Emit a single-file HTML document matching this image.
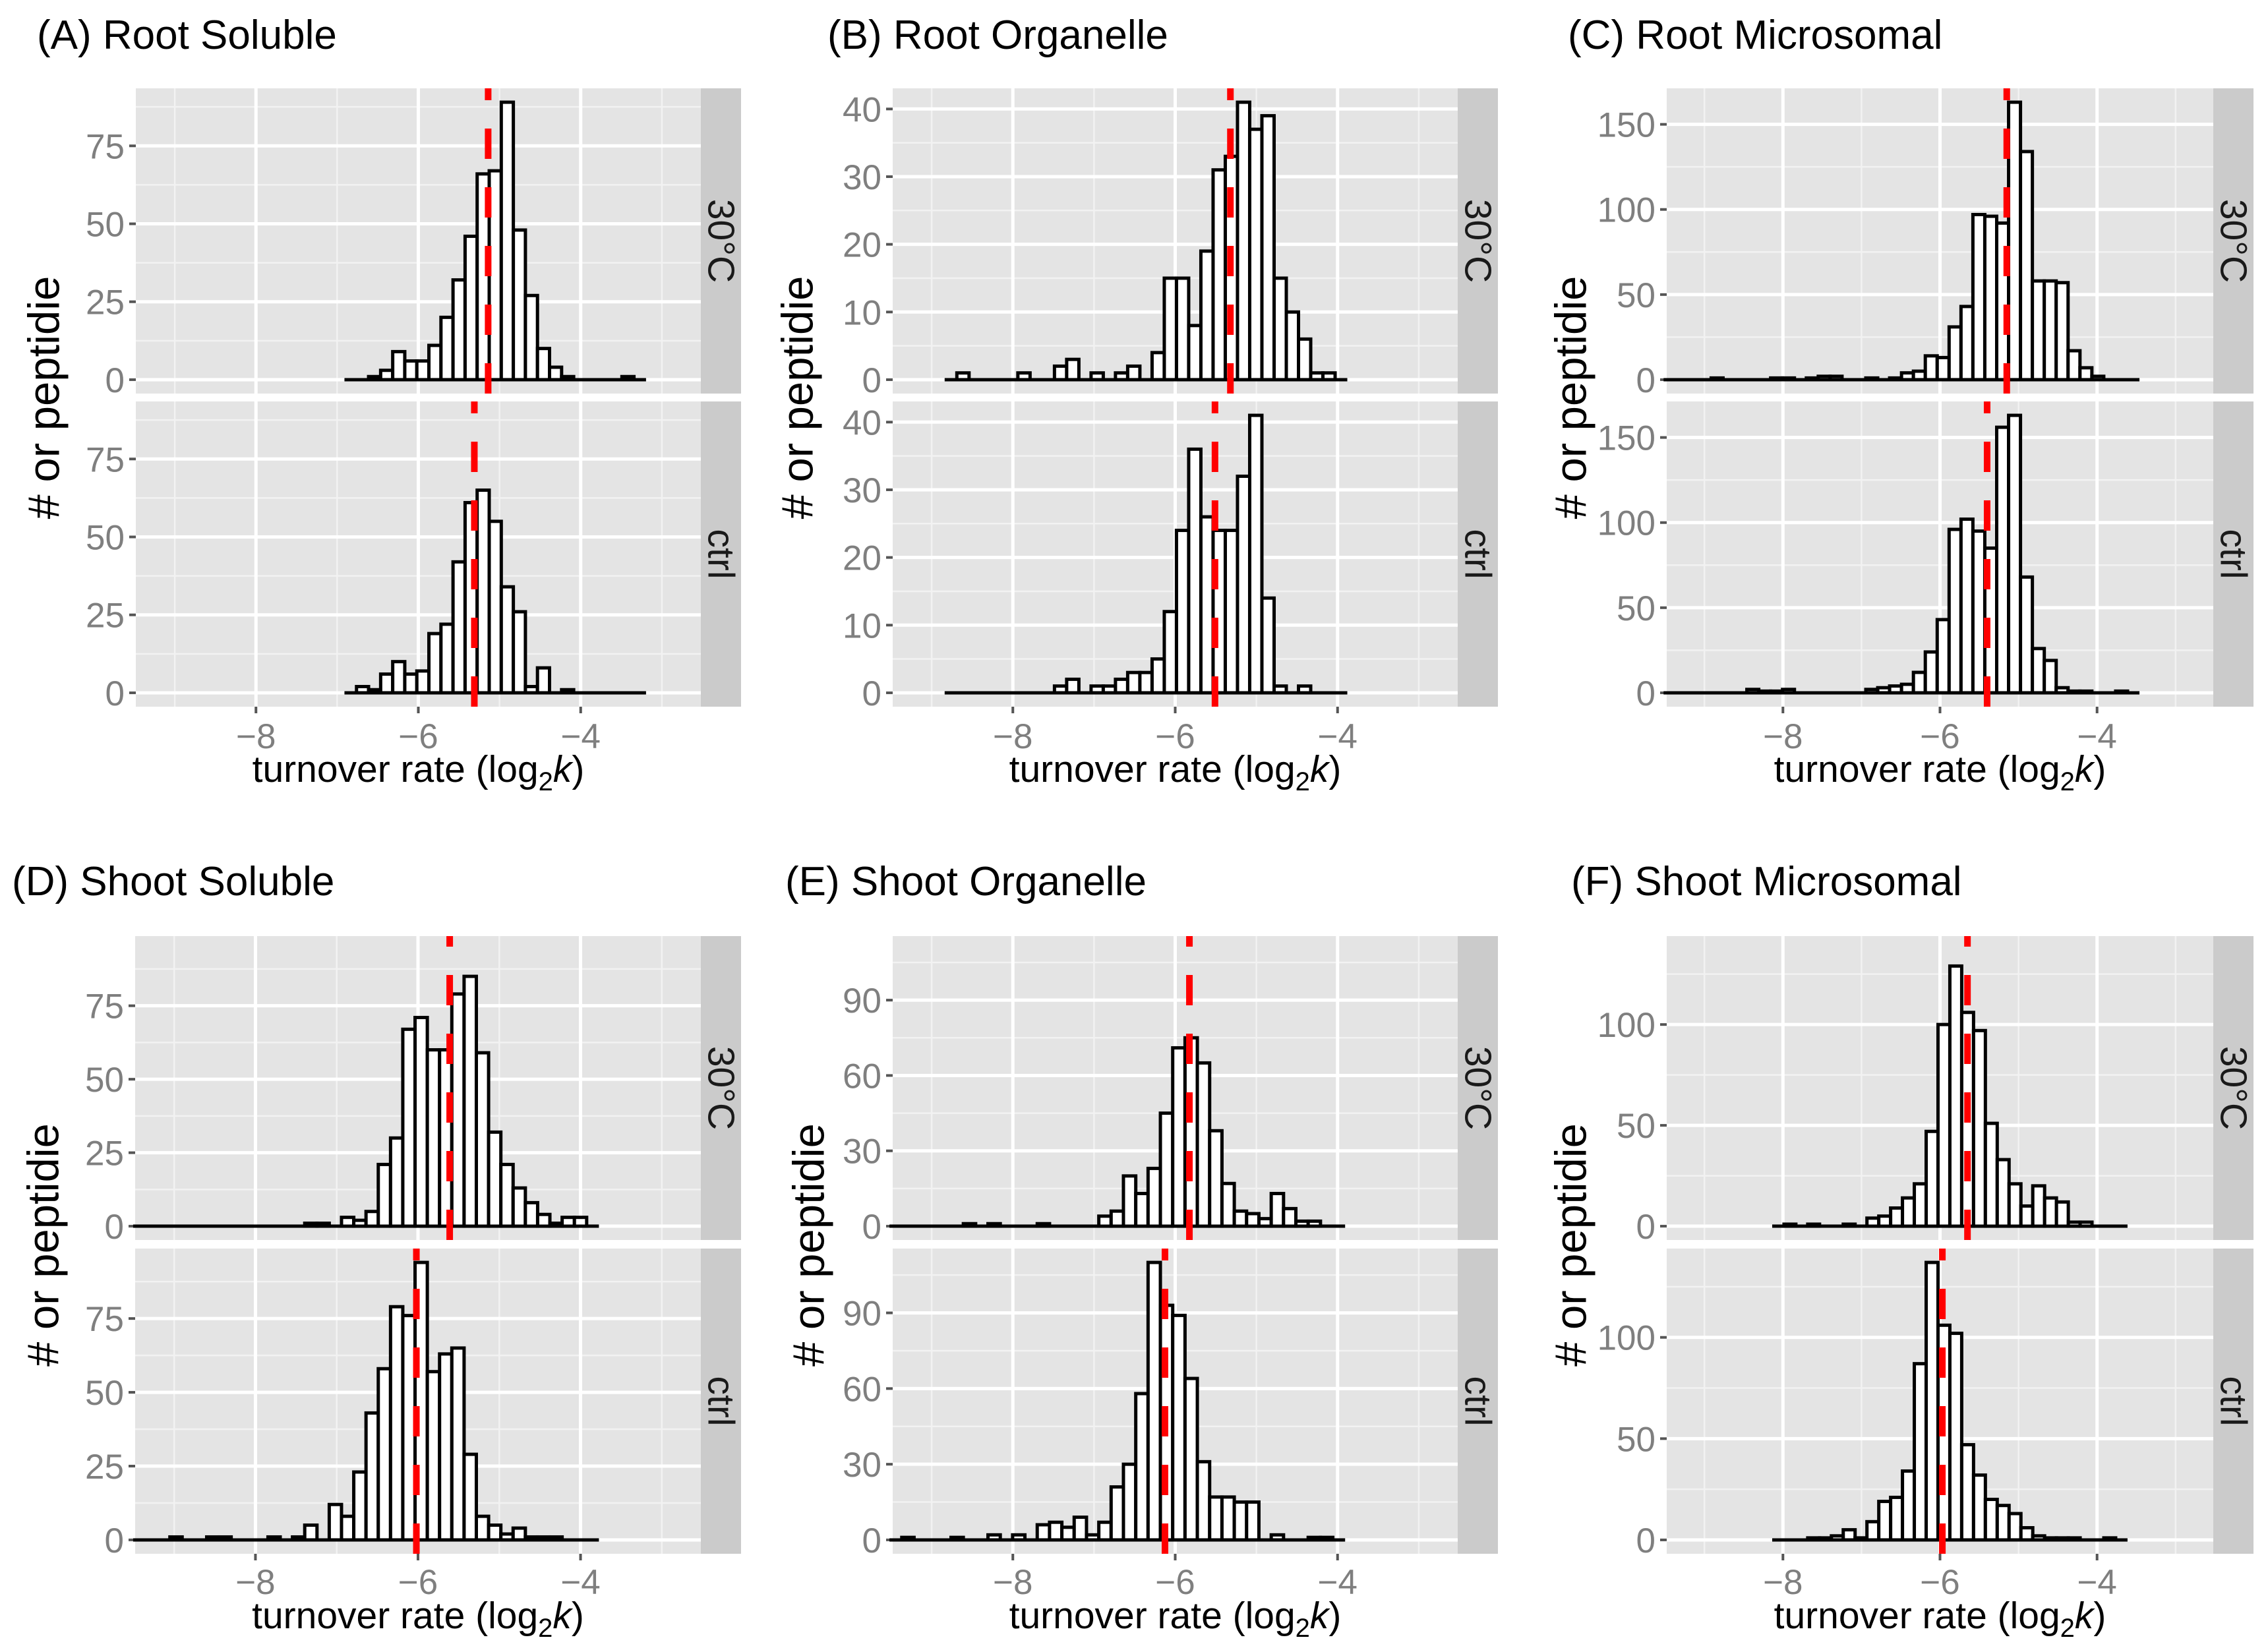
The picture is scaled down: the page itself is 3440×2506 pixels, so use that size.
<!DOCTYPE html>
<html><head><meta charset="utf-8">
<style>
html,body{margin:0;padding:0;background:#fff;}
svg{display:block;font-family:"Liberation Sans",Arial,sans-serif;}
</style></head>
<body>
<svg id="fig" width="3440" height="2506" viewBox="0 0 3440 2506" xmlns="http://www.w3.org/2000/svg"></svg>
<script>
// ---- data ----
const panelTitles = ["(A) Root Soluble","(B) Root Organelle","(C) Root Microsomal","(D) Shoot Soluble","(E) Shoot Organelle","(F) Shoot Microsomal"];
const facetLabels = ["30°C","ctrl"];
const xTicks = [-8,-6,-4];
const xTickLabels = ["\u22128","\u22126","\u22124"];
const binStart = [-6.91,-8.84,-9.52,-9.505,-9.52,-8.137];
const binEnd = [-3.195,-3.88,-3.46,-3.774,-3.907,-3.612];
const median30 = [-5.14,-5.32,-5.15,-5.61,-5.825,-5.65];
const medianCtrl = [-5.31,-5.51,-5.40,-6.02,-6.126,-5.97];
const yTicksA = [0,25,50,75];
const yTicksB = [0,10,20,30,40];
const yTicksC = [0,50,100,150];
const yTicksD = [0,25,50,75];
const yTicksE = [0,30,60,90];
const yTicksF = [0,50,100];
const countsA30 = [0,0,1,3,9,6,6,11,20,32,46,66,67,89,48,27,10,4,1,0,0,0,0,1,0];
const countsActrl = [0,2,1,6,10,6,7,19,22,42,61,65,55,34,26,2,8,0,1,0,0,0,0,0,0];
const countsB30 = [0,1,0,0,0,0,1,0,0,2,3,0,1,0,1,2,0,4,15,15,8,19,31,33,41,37,39,15,10,6,1,1,0];
const countsBctrl = [0,0,0,0,0,0,0,0,0,1,2,0,1,1,2,3,3,5,12,24,36,26,24,24,32,41,14,1,0,1,0,0,0];
const countsC30 = [0,0,0,0,1,0,0,0,0,1,1,0,1,2,2,0,0,1,0,1,4,5,14,13,31,43,97,96,92,163,134,58,58,57,17,7,2,0,0,0];
const countsCctrl = [0,0,0,0,0,0,0,2,1,1,2,0,0,0,0,0,0,2,3,4,5,12,24,43,96,102,95,85,156,163,68,26,19,3,1,1,0,0,1,0];
const countsD30 = [0,0,0,0,0,0,0,0,0,0,0,0,0,0,1,1,0,3,2,5,21,30,67,71,60,60,79,85,59,32,21,13,8,4,1,3,3,0];
const countsDctrl = [0,0,0,1,0,0,1,1,0,0,0,1,0,1,5,0,12,8,23,43,58,79,76,94,57,63,65,29,8,5,2,4,1,1,1,0,0,0];
const countsE30 = [0,0,0,0,0,0,1,0,1,0,0,0,1,0,0,0,0,4,6,20,13,23,45,71,75,65,38,17,6,5,3,13,7,2,2,0,0];
const countsEctrl = [0,1,0,0,0,1,0,0,2,0,2,0,6,7,5,9,2,7,21,30,58,110,93,89,64,31,17,17,15,15,0,2,0,0,1,1,0];
const countsF30 = [0,1,0,1,0,0,1,0,4,5,9,14,21,47,100,129,106,97,51,33,21,10,20,14,12,2,2,0,0,0];
const countsFctrl = [0,0,0,1,1,2,5,1,9,19,21,34,87,137,106,102,47,32,20,17,13,6,2,1,1,1,0,0,1,0];

// ---- layout (not data) ----
const yTicksAll = [yTicksA,yTicksB,yTicksC,yTicksD,yTicksE,yTicksF];
const counts30 = [countsA30,countsB30,countsC30,countsD30,countsE30,countsF30];
const countsCtrl = [countsActrl,countsBctrl,countsCctrl,countsDctrl,countsEctrl,countsFctrl];
const L = {
  left:[206,1354,2528,205,1354,2528],
  right:[1063,2211,3357,1063,2211,3357],
  titleX:[56,1255,2378,18,1191,2383],
  ytitleX:[67,1210,2383,66,1227,2383],
  rows:[{f:[[134,597],[609,1072]],title:74,xlab:1135,xtitle:1186},
        {f:[[1420,1881],[1894,2357]],title:1358,xlab:2418,xtitle:2470}]
};
const XMIN=-9.48, XMAX=-2.52, STRIP=61;
const NS="http://www.w3.org/2000/svg";
const svg=document.getElementById('fig');
function mk(tag,attrs,parent){const e=document.createElementNS(NS,tag);for(const k in attrs)e.setAttribute(k,attrs[k]);(parent||svg).appendChild(e);return e;}

for(let p=0;p<6;p++){
  const row=L.rows[Math.floor(p/3)];
  const x0=L.left[p], x1=L.right[p];
  const sx=v=>x0+(v-XMIN)/(XMAX-XMIN)*(x1-x0);
  const maxC=Math.max(...counts30[p],...countsCtrl[p]);
  const ylo=-0.05*maxC, yhi=1.05*maxC;
  const g=mk('g',{});
  
  
  const t=mk('text',{x:L.titleX[p],y:row.title,'font-size':62,fill:'#000'},g);
  t.textContent=panelTitles[p];
  
  
  const ym=(row.f[0][0]+row.f[1][1])/2;
  const yt=mk('text',{x:L.ytitleX[p],y:ym,'font-size':67,fill:'#000','text-anchor':'middle','dominant-baseline':'central',transform:`rotate(-90 ${L.ytitleX[p]} ${ym})`},g);
  yt.textContent='# or peptidie';
  
  
  const xt=mk('text',{x:(x0+x1)/2,y:row.xtitle,'font-size':57,fill:'#000','text-anchor':'middle'},g);
  xt.innerHTML='turnover rate (log<tspan font-size="40" dy="13">2</tspan><tspan dy="-13" font-style="italic">k</tspan>)';
  
  
  xTicks.forEach((v,i)=>{
    const tl=mk('text',{x:sx(v),y:row.xlab,'font-size':53,fill:'#7f7f7f','text-anchor':'middle'},g);
    tl.textContent=xTickLabels[i];
    
    
    mk('line',{x1:sx(v),x2:sx(v),y1:row.f[1][1],y2:row.f[1][1]+10,stroke:'#555','stroke-width':4},g);
  });
  for(let f=0;f<2;f++){
    const [fy0,fy1]=row.f[f];
    const sy=v=>fy1-(v-ylo)/(yhi-ylo)*(fy1-fy0);
    const fg=mk('g',{},g);
    
    
    mk('rect',{x:x0,y:fy0,width:x1-x0,height:fy1-fy0,fill:'#e4e4e4'},fg);
    const yt=yTicksAll[p], step=yt[1]-yt[0];
    for(let v=yt[0]-step/2; v<=yhi; v+=step){ if(v<ylo) continue;
      mk('line',{x1:x0,x2:x1,y1:sy(v),y2:sy(v),stroke:'#f2f2f2','stroke-width':2.5},fg);}
    [-9,-7,-5,-3].forEach(v=>mk('line',{x1:sx(v),x2:sx(v),y1:fy0,y2:fy1,stroke:'#f2f2f2','stroke-width':2.5},fg));
    yt.forEach(v=>mk('line',{x1:x0,x2:x1,y1:sy(v),y2:sy(v),stroke:'#fff','stroke-width':5},fg));
    xTicks.forEach(v=>mk('line',{x1:sx(v),x2:sx(v),y1:fy0,y2:fy1,stroke:'#fff','stroke-width':5},fg));
    yt.forEach(v=>{
      mk('line',{x1:x0-10,x2:x0,y1:sy(v),y2:sy(v),stroke:'#555','stroke-width':4},fg);
      const l=mk('text',{x:x0-17,y:sy(v)+19,'font-size':53,fill:'#7f7f7f','text-anchor':'end'},fg);
      l.textContent=v;
      
      
    });
    const c=f===0?counts30[p]:countsCtrl[p];
    const bw=(binEnd[p]-binStart[p])/c.length;
    const base=mk('line',{x1:sx(binStart[p]),x2:sx(binEnd[p]),y1:sy(0),y2:sy(0),stroke:'#000','stroke-width':5},fg);
    
    
    c.forEach((n,i)=>{
      if(n<=0) return;
      const a=sx(binStart[p]+i*bw), b=sx(binStart[p]+(i+1)*bw);
      const r=mk('rect',{x:a,y:sy(n),width:b-a,height:sy(0)-sy(n),fill:'#fff',stroke:'#000','stroke-width':5},fg);
      
      
    });
    const m=f===0?median30[p]:medianCtrl[p];
    const ml=mk('line',{x1:sx(m),x2:sx(m),y1:fy1,y2:fy0,stroke:'#ff0000','stroke-width':10,'stroke-dasharray':'46 43'},fg);
    
    
    mk('rect',{x:x1,y:fy0,width:STRIP,height:fy1-fy0,fill:'#cbcbcb'},fg);
    const cx=x1+STRIP/2, cy=(fy0+fy1)/2;
    const st=mk('text',{x:cx,y:cy,'font-size':57,fill:'#1a1a1a','text-anchor':'middle','dominant-baseline':'central',transform:`rotate(90 ${cx} ${cy})`},fg);
    st.textContent=facetLabels[f];
    
    
  }
}
</script>
</body></html>
